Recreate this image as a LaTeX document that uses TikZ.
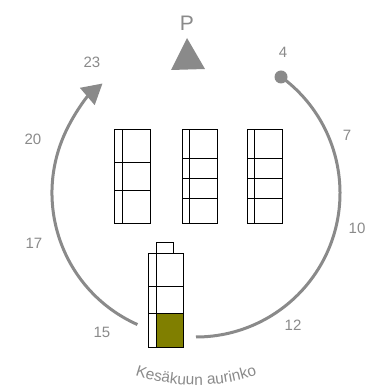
\documentclass[tikz,border=0pt]{standalone}
\usepackage{fontspec}
\setmainfont{Liberation Sans}
\usetikzlibrary{arrows.meta,decorations.text}
\definecolor{arcgray}{HTML}{8A8A8A}
\definecolor{olivefill}{HTML}{807F00}
\begin{document}
\begin{tikzpicture}[x=1pt,y=1pt,
  hour/.style={text=arcgray,font=\fontsize{15}{15}\selectfont,inner sep=0pt},
  sunarc/.style={draw=arcgray,line width=3pt},
  box/.style={draw=black,line width=0.9pt}]
\useasboundingbox (0,0) rectangle (367,385);
\coordinate (C) at (196,192);
% arcs
\draw[sunarc] (C) ++(53.5:144) arc[start angle=53.5,end angle=-90,radius=144];
\draw[sunarc,-{Triangle[length=20pt,width=22pt]}] (C) ++(246:144) arc[start angle=246,end angle=130.5,radius=144];
\fill[arcgray] (281,308) circle (6.5);
% north
\fill[arcgray] (187,347) -- (171,315) -- (205,316) -- cycle;
\node[text=arcgray,font=\fontsize{21}{21}\selectfont,inner sep=0pt] (P) at (187,362) {P};
% hours
\node[hour] (h23) at (92,323) {23};
\node[hour] (h4) at (283,333) {4};
\node[hour] (h7) at (347,250) {7};
\node[hour] (h10) at (357,157) {10};
\node[hour] (h12) at (293,60) {12};
\node[hour] (h20) at (33,246) {20};
\node[hour] (h17) at (34,142) {17};
\node[hour] (h15) at (102,53) {15};
% stack 1
\draw[box] (114,162) rectangle (150,256);
\draw[box] (122,162) -- (122,256);
\draw[box] (114,223) -- (150,223);
\draw[box] (114,195) -- (150,195);
% stack 2
\draw[box] (182,162) rectangle (217,256);
\draw[box] (189,162) -- (189,256);
\foreach \y in {227,207,187} \draw[box] (182,\y) -- (217,\y);
% stack 3
\draw[box] (247,162) rectangle (282,256);
\draw[box] (254,162) -- (254,256);
\foreach \y in {227,207,187} \draw[box] (247,\y) -- (282,\y);
% battery
\fill[olivefill] (156,38) rectangle (183,72);
\draw[box] (148,38) rectangle (183,132);
\draw[box] (156,38) -- (156,132);
\draw[box] (148,99) -- (183,99);
\draw[box] (148,72) -- (183,72);
\draw[box] (156,132) rectangle (173,143);
% caption
\path[decorate,decoration={text along path,text align=center,
  text={|\color{arcgray}\fontsize{15.5}{15.5}\selectfont|Kesäkuun aurinko}}]
  (C) ++(230:192) arc[start angle=230,end angle=310,radius=192];
\end{tikzpicture}
\end{document}
